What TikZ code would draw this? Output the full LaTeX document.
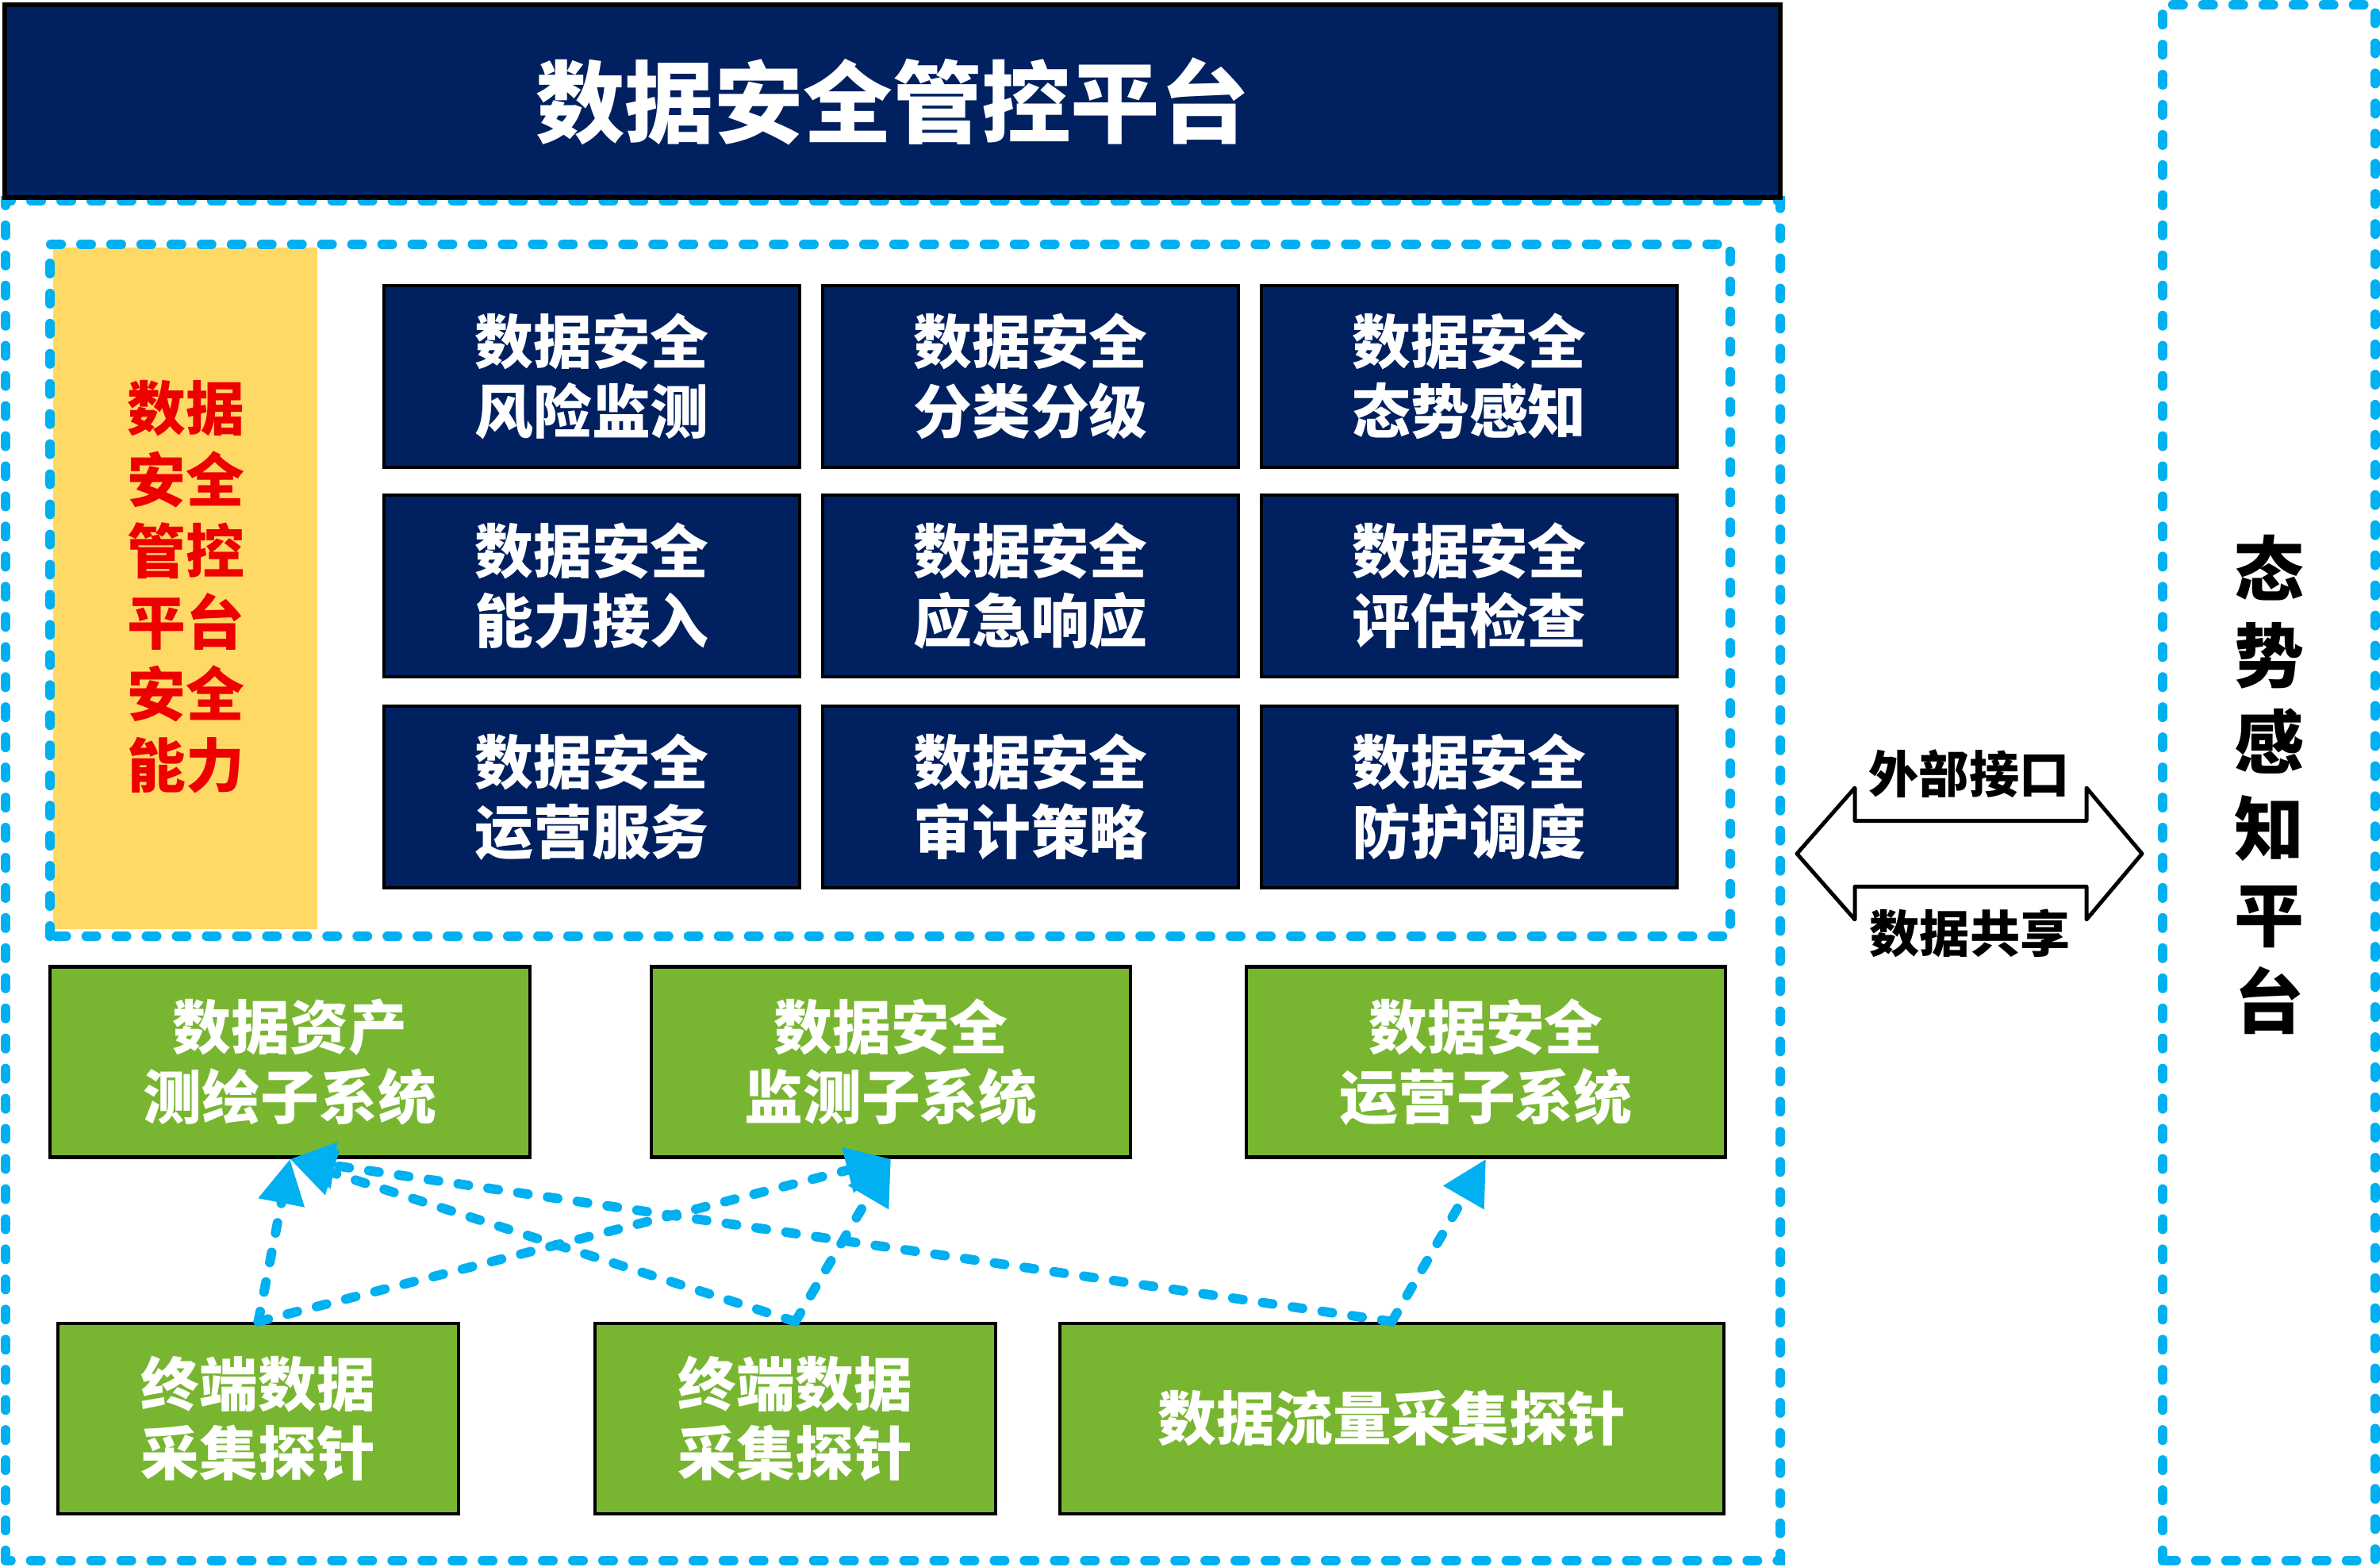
\documentclass[tikz,border=0pt]{standalone}
\usepackage{fontspec}
\setmainfont{Noto Sans CJK SC}
\usepackage{tikz}
\usetikzlibrary{positioning,arrows.meta}
\definecolor{navy}{HTML}{002060}
\definecolor{sunny}{HTML}{FFD966}
\definecolor{leaf}{HTML}{78B631}
\definecolor{sky}{HTML}{00B0F0}
\definecolor{alarm}{HTML}{EE0000}
\tikzset{
    dashbox/.style={draw=sky, line width=3.4pt, line cap=round, dash pattern=on 3.7pt off 7.1pt},
    navybox/.style={draw=black, line width=1.3pt, fill=navy, text=white, font=\bfseries\fontsize{21}{25}\selectfont,
        minimum width=5.24cm, minimum height=2.29cm, align=center, inner sep=0pt},
    leafbox/.style={draw=black, line width=1.3pt, fill=leaf, text=white, font=\bfseries\fontsize{21}{25}\selectfont,
        minimum height=2.4cm, align=center, inner sep=0pt},
    probe/.style={draw=sky, line width=3.4pt, line cap=round, dash pattern=on 3.7pt off 7.1pt,
        -{Triangle[length=16pt, width=16pt]}},
    tag/.style={font=\bfseries\fontsize{18}{22}\selectfont, inner sep=0pt}
}

\begin{document}
\begin{tikzpicture}
                \useasboundingbox (0,0) rectangle (30,19.75);
                % frames
                \draw[dashbox] (0.07,0.08) rectangle (22.44,17.22);
                \draw[dashbox] (27.26,0.08) rectangle (29.94,19.69);
                \fill[sunny] (0.67,8.04) rectangle (4.0,16.63);
                \draw[dashbox] (0.63,7.95) rectangle (21.81,16.67);
                % title
                \node[draw=black, line width=1.7pt, fill=navy, text=white, minimum width=22.38cm, minimum height=2.43cm,
                    font=\bfseries\fontsize{32}{38}\selectfont] (title) at (11.25,18.475) {数据安全管控平台};
                \node[text=alarm, align=center, font=\bfseries\fontsize{21}{25.6}\selectfont] (ability) at (2.34,12.35)
                    {数据\\安全\\管控\\平台\\安全\\能力};
                % capability grid
                \node[navybox] (c11) at (7.46,15.005) {数据安全\\风险监测};
                \node[navybox] (c12) at (12.99,15.005) {数据安全\\分类分级};
                \node[navybox] (c13) at (18.52,15.005) {数据安全\\态势感知};
                \node[navybox] (c21) at (7.46,12.365) {数据安全\\能力接入};
                \node[navybox] (c22) at (12.99,12.365) {数据安全\\应急响应};
                \node[navybox] (c23) at (18.52,12.365) {数据安全\\评估检查};
                \node[navybox] (c31) at (7.46,9.705) {数据安全\\运营服务};
                \node[navybox] (c32) at (12.99,9.705) {数据安全\\审计策略};
                \node[navybox] (c33) at (18.52,9.705) {数据安全\\防护调度};
                % subsystems
                \node[leafbox, minimum width=6.05cm] (g1) at (3.655,6.365) {数据资产\\测绘子系统};
                \node[leafbox, minimum width=6.04cm] (g2) at (11.23,6.365) {数据安全\\监测子系统};
                \node[leafbox, minimum width=6.04cm] (g3) at (18.73,6.365) {数据安全\\运营子系统};
                % probes
                \node[leafbox, minimum width=5.05cm] (b1) at (3.255,1.87) {终端数据\\采集探针};
                \node[leafbox, minimum width=5.05cm] (b2) at (10.025,1.87) {终端数据\\采集探针};
                \node[leafbox, minimum width=8.37cm] (b3) at (17.545,1.87) {数据流量采集探针};
                \foreach \s/\t in {b1/g1, b1/g2, b2/g1, b2/g2, b3/g1, b3/g3}
                    \draw[probe] (\s.north) -- (\t.south);
                % exchange arrow
                \coordinate (swap) at (24.82,8.99);
                \draw[line width=1.4pt, line join=round, shift={(swap)}] (-2.17,0) -- (-1.44,0.83) -- (-1.44,0.415) -- (1.48,0.415)
                    -- (1.48,0.83) -- (2.18,0) -- (1.48,-0.83) -- (1.48,-0.415) -- (-1.44,-0.415) -- (-1.44,-0.83) -- cycle;
                \node[tag] (iface) at (24.82,10.0) {外部接口};
                \node[tag] (share) at (24.83,7.99) {数据共享};
                \node[align=center, font=\bfseries\fontsize{25}{31}\selectfont] (aware) at (28.6,9.86)
                    {态\\势\\感\\知\\平\\台};
\end{tikzpicture}
\end{document}
